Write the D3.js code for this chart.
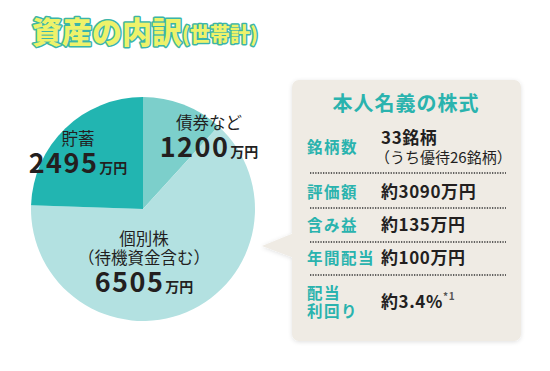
<!DOCTYPE html>
<html>
<head>
<meta charset="utf-8">
<script src="https://cdn.jsdelivr.net/npm/d3@7"></script>
<style>
  body { margin: 0; background: #fff; }
  svg { font-family: "Noto Sans CJK JP", "Noto Sans", sans-serif; }
</style>
</head>
<body>
<div id="chart"></div>
<script>
// assets (10k yen)
var categories = ["債券など", "個別株", "貯蓄"];
var subLabels = ["", "（待機資金含む）", ""];
var values = [1200, 6505, 2495];
var colors = ["#7ccfcb", "#b3e1e1", "#22b5b1"];

// holdings table
var rowLabels = [["銘柄数"], ["評価額"], ["含み益"], ["年間配当"], ["配当", "利回り"]];
var rowValues = ["33銘柄", "約3090万円", "約135万円", "約100万円", "約3.4%"];

var width = 550, height = 371;

var svg = d3.select("#chart").append("svg")
    .attr("width", width)
    .attr("height", height);

var defs = svg.append("defs");
var shadow = defs.append("filter").attr("id", "shadow")
    .attr("x", "-10%").attr("y", "-10%").attr("width", "120%").attr("height", "120%");
shadow.append("feDropShadow")
    .attr("dx", 0).attr("dy", 1).attr("stdDeviation", 2)
    .attr("flood-color", "#000").attr("flood-opacity", 0.12);

// title, white halo then teal outline
[["#fff", 7], ["#3bb5a8", 3]].forEach(function (s) {
  var title = svg.append("text")
      .attr("x", 32)
      .attr("y", 43)
      .style("font-weight", "900")
      .style("paint-order", "stroke")
      .attr("fill", "#eef26a")
      .attr("stroke", s[0])
      .attr("stroke-width", s[1])
      .attr("stroke-linejoin", "round");
  title.append("tspan").style("font-size", "30px").text("資産の内訳");
  title.append("tspan").style("font-size", "20px").attr("dy", -1).text("(世帯計)");
});

// pie
var cx = 143, cy = 209, r = 112;

var pie = d3.pie().sort(null).startAngle(0).endAngle(2 * Math.PI);
var arc = d3.arc().innerRadius(0).outerRadius(r);

var g = svg.append("g").attr("transform", "translate(" + cx + "," + cy + ")");

g.selectAll("path")
    .data(pie(values))
  .enter().append("path")
    .attr("d", arc)
    .attr("fill", function (d, i) { return colors[i]; });

// pie labels
var labelPos = [
  {x: 209, y: 129},
  {x: 144, y: 245},
  {x: 78, y: 145}
];

labelPos.forEach(function (p, i) {
  var lg = svg.append("g").attr("fill", "#231f1f").style("text-anchor", "middle");
  lg.append("text")
    .attr("x", p.x).attr("y", p.y)
    .style("font-size", "16.5px")
    .text(categories[i]);
  var y = p.y + 28;
  if (subLabels[i]) {
    lg.append("text")
      .attr("x", p.x).attr("y", p.y + 19)
      .style("font-size", "16.5px")
      .text(subLabels[i]);
    y = p.y + 47;
  }
  var t = lg.append("text")
    .attr("x", p.x).attr("y", y)
    .style("font-weight", "bold");
  t.append("tspan").style("font-size", "27px").style("letter-spacing", "1.5px")
    .text(d3.format("d")(values[i]));
  t.append("tspan").style("font-size", "14px").attr("dx", 1).text("万円");
});

// callout box
var bx = 292, by = 80, bw = 229, bh = 261;
var box = svg.append("g").attr("filter", "url(#shadow)");
box.append("path")
    .attr("d", "M" + (bx + 2) + ",233 L262,246 L" + (bx + 2) + ",258 Z")
    .attr("fill", "#efebe4");
box.append("rect")
    .attr("x", bx).attr("y", by)
    .attr("width", bw).attr("height", bh)
    .attr("rx", 7)
    .attr("fill", "#efebe4");

svg.append("text")
    .attr("x", 406).attr("y", 111)
    .style("text-anchor", "middle")
    .style("font-size", "20px")
    .style("font-weight", "bold")
    .style("letter-spacing", "1px")
    .attr("fill", "#2ab3ae")
    .text("本人名義の株式");

var rowY = [153, 198, 231, 264, 299];
var sepY = [173, 208, 242, 275];

rowLabels.forEach(function (lines, i) {
  var lt = svg.append("text")
    .attr("x", 307)
    .attr("y", rowY[i])
    .style("font-size", "15.5px")
    .style("font-weight", "bold")
    .style("letter-spacing", "1.5px")
    .attr("fill", "#2ab3ae");
  lines.forEach(function (s, j) {
    lt.append("tspan").attr("x", 307).attr("dy", j ? 18 : 0).text(s);
  });
});

rowValues.forEach(function (v, i) {
  var y = i === 0 ? 144 : (i === 4 ? 308 : rowY[i]);
  var vt = svg.append("text")
    .attr("x", 381).attr("y", y)
    .style("font-size", "17px")
    .style("font-weight", "bold")
    .style("letter-spacing", "0.6px")
    .attr("fill", "#231f1f")
    .text(v);
  if (i === 4) {
    vt.append("tspan")
      .attr("dy", -8)
      .style("font-size", "10px")
      .attr("fill", "#555")
      .text("*1");
  }
});

svg.append("text")
    .attr("x", 375).attr("y", 163)
    .style("font-size", "15px")
    .attr("fill", "#231f1f")
    .text("（うち優待26銘柄）");

svg.selectAll("line.sep")
    .data(sepY)
  .enter().append("line")
    .attr("class", "sep")
    .attr("x1", 310).attr("x2", 506)
    .attr("y1", function (d) { return d; })
    .attr("y2", function (d) { return d; })
    .attr("stroke", "#333")
    .attr("stroke-width", 1.3)
    .attr("stroke-dasharray", "1.3,1.3");
</script>
</body>
</html>
